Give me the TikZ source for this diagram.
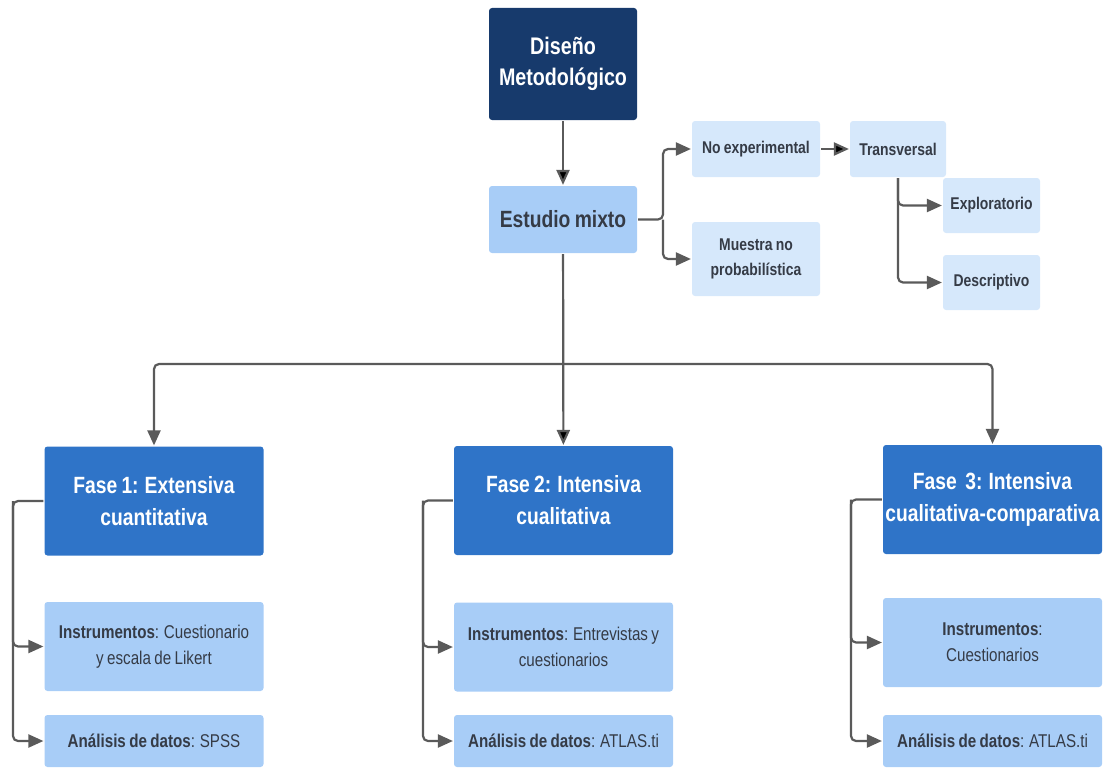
\documentclass[tikz,border=0pt]{standalone}
\usepackage{fontspec}
\setmainfont{Liberation Sans}[FakeStretch=0.82,WordSpace=0.8]
\usetikzlibrary{arrows.meta}

\definecolor{navy}{HTML}{173A6C}
\definecolor{phase}{HTML}{2F74C8}
\definecolor{midblue}{HTML}{A8CDF7}
\definecolor{paleblue}{HTML}{D6E8FB}
\definecolor{ink}{HTML}{353B46}
\definecolor{wire}{HTML}{5A5A5A}

\begin{document}
\begin{tikzpicture}[x=1pt,y=-1pt,->,>={Triangle[length=15pt,width=13pt]},
                    line width=2.2pt,rounded corners=5pt]
  \tikzstyle{every node}=[rounded corners=3pt,draw=none,align=center,inner sep=0pt]
  \tikzstyle{topbox}=[fill=navy,text=white,font=\bfseries\fontsize{24}{31}\selectfont]
  \tikzstyle{mixbox}=[fill=midblue,text=ink,font=\bfseries\fontsize{23.5}{28}\selectfont]
  \tikzstyle{smallbox}=[fill=paleblue,text=ink,font=\bfseries\fontsize{17}{25}\selectfont]
  \tikzstyle{phasebox}=[fill=phase,text=white,font=\bfseries\fontsize{23.5}{32}\selectfont,
                        minimum width=219pt,minimum height=109pt]
  \tikzstyle{toolbox}=[fill=midblue,text=ink,font=\fontsize{18.5}{26}\selectfont,
                       minimum width=219pt]
  \tikzstyle{wire}=[draw=wire]

  \useasboundingbox (0,0) rectangle (1113,768);

  \node[topbox,minimum width=148pt,minimum height=112pt] (dis) at (563,64) {Diseño\\Metodológico};
  \node[mixbox,minimum width=148pt,minimum height=67pt] (mix) at (563,219.5) {Estudio mixto};
  \node[smallbox,minimum width=128pt,minimum height=56pt] (noexp) at (756,149) {No experimental};
  \node[smallbox,minimum width=128pt,minimum height=74pt] (muestra) at (756,259) {Muestra no\\probabilística};
  \node[smallbox,minimum width=96pt,minimum height=56pt] (transv) at (898,149) {Transversal};
  \node[smallbox,minimum width=97pt,minimum height=55pt] (explor) at (991.5,205.5) {Exploratorio};
  \node[smallbox,minimum width=97pt,minimum height=55pt] (descr) at (991.5,282.5) {Descriptivo};

  \node[phasebox] (f1) at (154,501) {Fase 1: Extensiva\\cuantitativa};
  \node[phasebox] (f2) at (563.5,500.5) {Fase 2: Intensiva\\cualitativa};
  \node[phasebox] (f3) at (992.5,499.5) {Fase\ \ 3: Intensiva\\cualitativa-comparativa};

  \node[toolbox,minimum height=89pt] (i1) at (154,646.5) {\textbf{Instrumentos}: Cuestionario\\y escala de Likert};
  \node[toolbox,minimum height=89pt] (i2) at (563.5,647) {\textbf{Instrumentos}: Entrevistas y\\cuestionarios};
  \node[toolbox,minimum height=89pt] (i3) at (992.5,642.5) {\textbf{Instrumentos}:\\Cuestionarios};
  \node[toolbox,minimum height=52pt] (a1) at (154,741) {\textbf{Análisis de datos}: SPSS};
  \node[toolbox,minimum height=52pt] (a2) at (563.5,741) {\textbf{Análisis de datos}: ATLAS.ti};
  \node[toolbox,minimum height=52pt] (a3) at (992.5,741) {\textbf{Análisis de datos}: ATLAS.ti};

  \coordinate (bus) at (563,364);
  \coordinate (fork) at (663,219.5);
  \coordinate (t1) at (13,501);
  \coordinate (t2) at (423,500.5);
  \coordinate (t3) at (851,499.5);

  \path[wire] (dis) edge (mix)
        (mix) edge (f2)
        (noexp) edge (transv);
  \draw[wire] (bus) -| (f1);
  \draw[wire] (bus) -| (f3);
  \draw[wire] (mix) -- (fork) |- (noexp);
  \draw[wire] (fork) |- (muestra);
  \draw[wire] (transv) |- (explor);
  \draw[wire] (transv) |- (descr);

  \draw[wire] (f1) -- (t1) |- (i1);
  \draw[wire] (t1) |- (a1);
  \draw[wire] (f2) -- (t2) |- (i2);
  \draw[wire] (t2) |- (a2);
  \draw[wire] (f3) -- (t3) |- (i3);
  \draw[wire] (t3) |- (a3);
\end{tikzpicture}
\end{document}
